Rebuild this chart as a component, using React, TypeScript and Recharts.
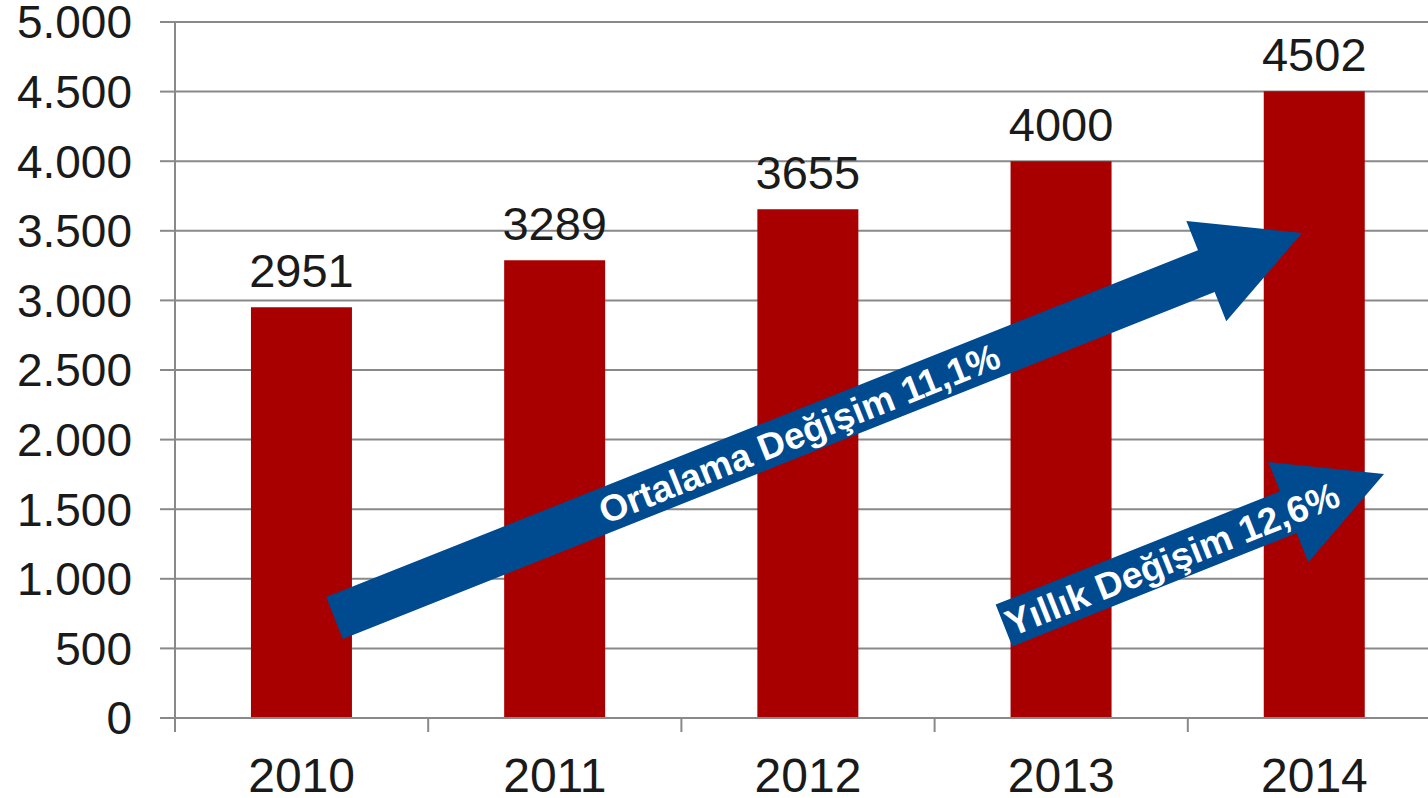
import React from 'react';
import { BarChart, Bar, XAxis, YAxis, CartesianGrid, LabelList } from 'recharts';

const years = ['2010', '2011', '2012', '2013', '2014'];
const values = [2951, 3289, 3655, 4000, 4502];
const yTicks = [0, 500, 1000, 1500, 2000, 2500, 3000, 3500, 4000, 4500, 5000];

// annotation arrows (tail, tip, label)
const arrowTexts = ['Ortalama Değişim 11,1%', 'Yıllık Değişim 12,6%'];
const arrowTails = [[334.5, 618], [1004, 625.5]];
const arrowTips = [[1302, 233], [1384, 474]];
const arrowTextPos = [500, 181];

const data = years.map((year, i) => ({ year, value: values[i] }));

const CHART_W = 1460;
const CHART_H = 798;
const MARGIN = { top: 22, right: 19, bottom: 0, left: 0 };
const Y_AXIS_W = 175;
const PLOT_W = CHART_W - MARGIN.right - MARGIN.left - Y_AXIS_W;
const BAND = PLOT_W / years.length;

const FONT = '"Liberation Sans", Arial, sans-serif';
const GRID = '#898989';
const BAR = '#A80000';
const BLUE = '#004A8F';

const fmt = (v: number) => String(v).replace(/\B(?=(\d{3})+(?!\d))/g, '.');

const XTick = (props: any) => {
  const { x, y, payload, index } = props;
  const left = x - BAND / 2;
  return (
    <g>
      <line x1={left} y1={y} x2={left} y2={y + 14} stroke={GRID} strokeWidth={2} />
      {index === years.length - 1 && (
        <line x1={x + BAND / 2} y1={y} x2={x + BAND / 2} y2={y + 14} stroke={GRID} strokeWidth={2} />
      )}
      <text x={x} y={y + 74} textAnchor="middle" fill="#1a1a1a" fontSize={48} fontFamily={FONT}>
        {payload.value}
      </text>
    </g>
  );
};

const Arrow = ({ tail, tip, text, at }: any) => {
  const dx = tip[0] - tail[0];
  const dy = tip[1] - tail[1];
  const len = Math.sqrt(dx * dx + dy * dy);
  const ang = (Math.atan2(dy, dx) * 180) / Math.PI;
  const s = 22.5;
  const h = 54;
  const hl = 103;
  const pts = [
    [0, -s], [len - hl, -s], [len - hl, -h], [len, 0], [len - hl, h], [len - hl, s], [0, s],
  ].map((p) => p.join(',')).join(' ');
  return (
    <g transform={`translate(${tail[0]},${tail[1]}) rotate(${ang})`}>
      <polygon points={pts} fill={BLUE} />
      <text
        x={at}
        y={0}
        dy="0.36em"
        textAnchor="middle"
        fill="#ffffff"
        fontSize={37}
        fontWeight="bold"
        fontFamily={FONT}
      >
        {text}
      </text>
    </g>
  );
};

export default function App() {
  return (
    <div style={{ position: 'absolute', left: 0, top: 0, width: 1428, height: 798, overflow: 'hidden', background: '#fff' }}>
      <BarChart width={CHART_W} height={CHART_H} data={data} margin={MARGIN} barCategoryGap="30%">
        <CartesianGrid vertical={false} stroke={GRID} strokeWidth={2} />
        <XAxis
          dataKey="year"
          height={80}
          axisLine={{ stroke: GRID, strokeWidth: 2 }}
          tickLine={false}
          tickSize={0}
          tickMargin={0}
          tick={<XTick />}
          interval={0}
        />
        <YAxis
          width={Y_AXIS_W}
          domain={[0, 5000]}
          ticks={yTicks}
          interval={0}
          tickFormatter={fmt}
          axisLine={{ stroke: GRID, strokeWidth: 2 }}
          tickLine={{ stroke: GRID, strokeWidth: 2 }}
          tickSize={15}
          tickMargin={28}
          tick={{ fill: '#1a1a1a', fontSize: 46, fontFamily: FONT }}
        />
        <Bar dataKey="value" fill={BAR} isAnimationActive={false}>
          <LabelList dataKey="value" position="top" offset={20} fill="#1a1a1a" fontSize={47} fontFamily={FONT} />
        </Bar>
      </BarChart>
      <svg width={1428} height={798} style={{ position: 'absolute', left: 0, top: 0, pointerEvents: 'none' }}>
        {arrowTexts.map((t, i) => (
          <Arrow key={t} tail={arrowTails[i]} tip={arrowTips[i]} text={t} at={arrowTextPos[i]} />
        ))}
      </svg>
    </div>
  );
}
